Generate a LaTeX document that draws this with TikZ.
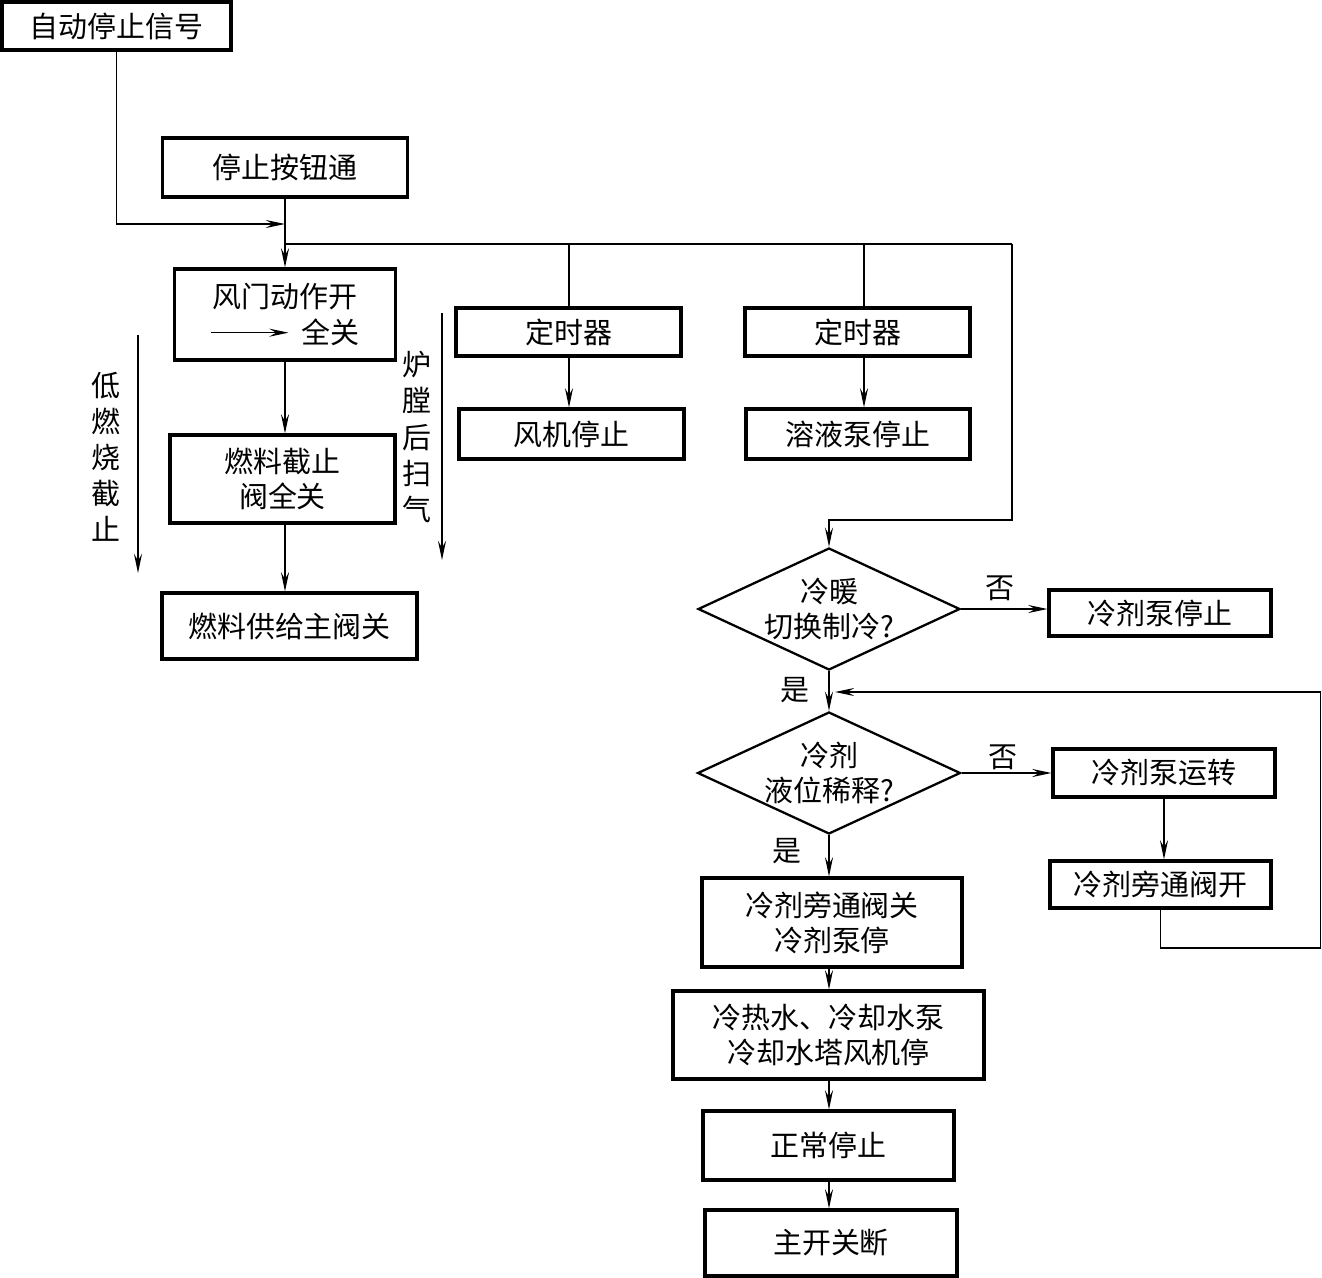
\documentclass[tikz,border=0pt]{standalone}
\usepackage{fontspec}
\setmainfont{Noto Sans CJK SC}
\usetikzlibrary{arrows.meta,shapes.geometric}

\newcommand{\fs}{\fontsize{16.5pt}{20pt}\selectfont}
\newcommand{\vfs}{\fontsize{16.5pt}{20.5pt}\selectfont}

\tikzset{
  box/.style={draw, line width=1.8pt, inner sep=0pt, align=center},
  dia/.style={draw, diamond, line width=1.3pt, inner sep=-10pt, align=center},
  wire/.style={line width=0.75pt},
  flow/.style={line width=0.75pt, -{Stealth[length=11pt,width=4.6pt,inset=4pt]}},
}

\begin{document}
\begin{tikzpicture}[x=0.02cm, y=-0.02cm, every node/.style={font=\fs}]
\useasboundingbox (0,0) rectangle (1322,1278);

\begin{scope}
  \node[box, minimum width=4.58cm, minimum height=0.96cm] (sig) at (116.5,26) {自动停止信号};
  \node[box, minimum width=4.9cm, minimum height=1.18cm] (btn) at (285,167.5) {停止按钮通};
  \node[box, minimum width=4.42cm, minimum height=1.82cm] (damper) at (285,314.5)
    {风门动作开\\\tikz[baseline=-0.36em]\draw[flow] (0,0) -- (1.55cm,0);\hspace{0.25cm}全关};
  \node[box, minimum width=4.5cm, minimum height=1.76cm] (fuel) at (282.5,479) {燃料截止\\阀全关};
  \node[box, minimum width=5.1cm, minimum height=1.32cm] (mainv) at (289.5,626) {燃料供给主阀关};

  \node[align=center, font=\vfs] (lowfire) at (106,457) {低\\燃\\烧\\截\\止};
  \node[align=center, font=\vfs] (purge) at (417,437) {炉\\膛\\后\\扫\\气};
  \coordinate (la1) at (138,335);
  \coordinate (la2) at (138,573);
  \coordinate (ra1) at (442,313);
  \coordinate (ra2) at (442,560);
  \draw[flow] (la1) -- (la2);
  \draw[flow] (ra1) -- (ra2);

  \coordinate (jn) at (285,224);
  \draw[flow] (sig.south) |- (jn);
  \draw[flow] (btn.south) -- (damper.north);
  \draw[flow] (damper.south) -- (damper.south |- fuel.north);
  \draw[flow] (fuel.south -| damper.south) -- (damper.south |- mainv.north);
\end{scope}

\begin{scope}
  \node[box, minimum width=4.5cm, minimum height=0.96cm] (timer1) at (568.5,332) {定时器};
  \node[box, minimum width=4.5cm, minimum height=1.0cm] (fanstop) at (571.5,434) {风机停止};
  \node[box, minimum width=4.5cm, minimum height=0.96cm] (timer2) at (857.5,332) {定时器};
  \node[box, minimum width=4.48cm, minimum height=1.0cm] (solstop) at (858,434) {溶液泵停止};

  \coordinate (br) at (285,244);
  \coordinate (brR) at (1012,244);
  \coordinate (t1) at (569,244);
  \coordinate (t2) at (864,244);
  \coordinate (dn) at (1012,520);
  \coordinate (dm) at (829,520);
  \draw[wire] (br) -- (brR);
  \draw[wire] (t1) -- (t1 |- timer1.north);
  \draw[wire] (t2) -- (t2 |- timer2.north);
  \draw[flow] (t1 |- timer1.south) -- (t1 |- fanstop.north);
  \draw[flow] (t2 |- timer2.south) -- (t2 |- solstop.north);
\end{scope}

\begin{scope}
  \node[dia, minimum width=5.24cm, minimum height=2.44cm] (d1) at (829,609) {冷暖\\切换制冷?};
  \node[box, minimum width=4.44cm, minimum height=0.92cm] (nostop) at (1160,613) {冷剂泵停止};
  \node[dia, minimum width=5.26cm, minimum height=2.44cm] (d2) at (829,773) {冷剂\\液位稀释?};
  \node[box, minimum width=4.44cm, minimum height=0.96cm] (run) at (1164,773) {冷剂泵运转};
  \node[box, minimum width=4.42cm, minimum height=0.94cm] (bypo) at (1160.5,884.5) {冷剂旁通阀开};
  \node[box, minimum width=5.2cm, minimum height=1.78cm] (bypc) at (832,922.5) {冷剂旁通阀关\\冷剂泵停};
  \node[box, minimum width=6.22cm, minimum height=1.76cm] (water) at (828.5,1035) {冷热水、冷却水泵\\冷却水塔风机停};
  \node[box, minimum width=5.02cm, minimum height=1.38cm] (normal) at (828.5,1145.5) {正常停止};
  \node[box, minimum width=5.04cm, minimum height=1.32cm] (mainsw) at (831,1243) {主开关断};

  \node (no1) at (1000,588) {否};
  \node (no2) at (1003,757) {否};
  \node (yes1) at (795,690) {是};
  \node (yes2) at (787,851) {是};

  \coordinate (col) at (829,0);
  \coordinate (lp1) at (1320.5,948);
  \coordinate (lpend) at (835,692);
  \draw[flow] (brR) -- (dn) -- (dm) -- (d1.north);
  \draw[flow] (d1.east) -- (d1.east -| nostop.west);
  \draw[flow] (d1.south) -- (d2.north);
  \draw[flow] (d2.east) -- (d2.east -| run.west);
  \draw[flow] (run.south) -- (run.south |- bypo.north);
  \draw[flow] (bypo.south) |- (lp1) |- (lpend);
  \draw[flow] (d2.south) -- (col |- bypc.north);
  \draw[flow] (col |- bypc.south) -- (col |- water.north);
  \draw[flow] (col |- water.south) -- (col |- normal.north);
  \draw[flow] (col |- normal.south) -- (col |- mainsw.north);
\end{scope}

\end{tikzpicture}
\end{document}
